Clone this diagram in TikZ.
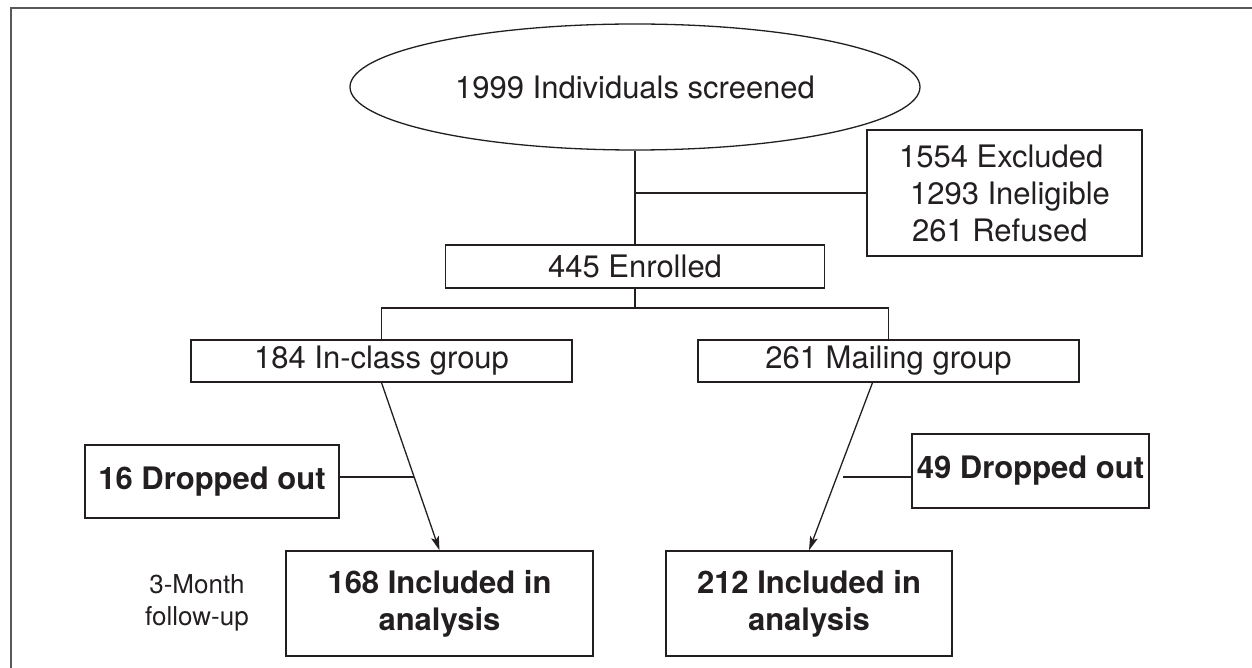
\documentclass[tikz,border=0pt]{standalone}
\usepackage{fontspec}
\setmainfont{TeX Gyre Heros}
\usetikzlibrary{shapes.geometric,arrows.meta,calc}
\definecolor{ink}{HTML}{231F20}
\begin{document}
\begin{tikzpicture}[x=1pt,y=-1pt,
  every node/.style={text=ink},
  conn/.style={draw=ink,line width=1.3pt},
  arr/.style={conn,-{Stealth[length=14pt,width=8pt,inset=3pt]}},
  boxn/.style={draw=ink,line width=1.3pt,rectangle,inner sep=0pt,align=center,font=\fontsize{31}{37}\selectfont},
  boldbox/.style={boxn,font=\fontsize{31}{37}\selectfont\bfseries},
  frameline/.style={draw=black!65,line width=2pt}]
\useasboundingbox (0,0) rectangle (1252,668);
\draw[frameline] (11,668) -- (11,8) -- (1252,8);

\node[draw=ink,line width=1.3pt,ellipse,inner sep=0pt,minimum width=570pt,minimum height=126pt,font=\fontsize{31}{37}\selectfont] (scr) at (635,87) {1999 Individuals screened};
\node[boxn,align=left,minimum width=275pt,minimum height=126pt] (exc) at (1004.5,193) {1554 Excluded\\\hspace*{11pt}1293 Ineligible\\\hspace*{13pt}261 Refused};
\node[boxn,minimum width=379pt,minimum height=43pt] (enr) at (635,266.5) {445 Enrolled};
\node[boxn,minimum width=381pt,minimum height=42pt] (inc) at (381.5,361) {184 In-class group};
\node[boxn,minimum width=381pt,minimum height=42pt] (mail) at (888.5,361) {261 Mailing group};
\node[boldbox,minimum width=254pt,minimum height=73pt] (d1) at (212,481.5) {16 Dropped out};
\node[boldbox,minimum width=237pt,minimum height=74pt] (d2) at (1030.5,471) {49 Dropped out};
\node[boldbox,minimum width=307pt,minimum height=105pt] (a1) at (439.5,603.5) {168 Included in\\analysis};
\node[boldbox,minimum width=286pt,minimum height=105pt] (a2) at (809,603.5) {212 Included in\\analysis};
\node[align=center,inner sep=0pt,font=\fontsize{26}{32}\selectfont] (fu) at (197,603) {3-Month\\follow-up};

\draw[conn] (scr.south) -- (enr.north);
\draw[conn] (exc.west) -- (exc.west -| scr.south);
\coordinate (br) at (635,308);
\draw[conn] (enr.south) -- (br);
\draw[conn] (inc.north) -- (inc.north |- br) -- (mail.north |- br) -- (mail.north);
\draw[arr] (inc.south) -- (a1.north);
\coordinate (ms) at ($(mail.south)+(-16,0)$);
\draw[arr] (ms) -- (a2.north);
\coordinate (j1) at ($(inc.south)!0.562!(a1.north)$);
\draw[conn] (j1) -- (j1 -| d1.east);
\coordinate (j2) at (843,477);
\draw[conn] (d2.west |- j2) -- (j2);
\end{tikzpicture}
\end{document}
